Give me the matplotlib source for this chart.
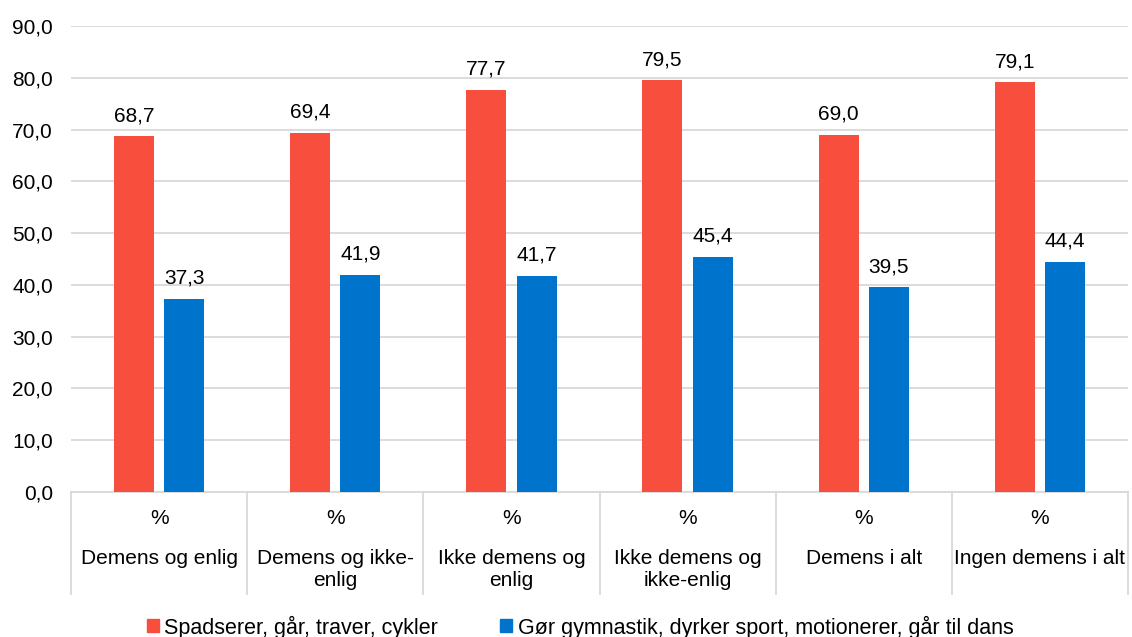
import matplotlib
matplotlib.use("Agg")
import matplotlib.pyplot as plt
import matplotlib.transforms as mtransforms
from matplotlib.patches import Patch
import numpy as np

plt.rcParams['font.family'] = ['Liberation Sans', 'DejaVu Sans']

categories = ["Demens og enlig", "Demens og ikke-\nenlig", "Ikke demens og\nenlig",
              "Ikke demens og\nikke-enlig", "Demens i alt", "Ingen demens i alt"]
unit_label = "%"
series_names = ["Spadserer, går, traver, cykler",
                "Gør gymnastik, dyrker sport, motionerer, går til dans"]
walking = [68.7, 69.4, 77.7, 79.5, 69.0, 79.1]
sport = [37.3, 41.9, 41.7, 45.4, 39.5, 44.4]
y_ticks = [0, 10, 20, 30, 40, 50, 60, 70, 80, 90]

RED = "#F84E3E"
BLUE = "#0074CC"
GRID = "#D9D9D9"
FS = 15

W, H = 1132, 637
fig = plt.figure(figsize=(W / 100, H / 100), dpi=100)
x0, x1, y_top, y_bot = 71, 1128, 26, 492
ax = fig.add_axes([x0 / W, (H - y_bot) / H, (x1 - x0) / W, (y_bot - y_top) / H])

n = len(categories)
x = np.arange(n)
bw = 0.227
off = 0.143
b1 = ax.bar(x - off, walking, bw, color=RED, zorder=3)
b2 = ax.bar(x + off, sport, bw, color=BLUE, zorder=3)

fmt = lambda v: f"{v:.1f}".replace(".", ",")
for bars, vals in ((b1, walking), (b2, sport)):
    for r, v in zip(bars, vals):
        ax.annotate(fmt(v), (r.get_x() + r.get_width() / 2, v), xytext=(0, 8),
                    textcoords="offset points", ha="center", va="bottom", fontsize=FS)

ax.set_xlim(-0.5, n - 0.5)
ax.set_ylim(0, 90)
ax.set_yticks(y_ticks)
ax.set_yticklabels([fmt(t) for t in y_ticks], fontsize=FS)
ax.tick_params(axis="y", length=0, pad=13)
ax.tick_params(axis="x", length=0, labelbottom=False)
ax.yaxis.grid(True, color=GRID, linewidth=1.3, zorder=0)
for s in ["top", "right", "left"]:
    ax.spines[s].set_visible(False)
ax.spines["bottom"].set_color(GRID)
ax.spines["bottom"].set_linewidth(1.3)

# multi-level category axis
trans = mtransforms.blended_transform_factory(ax.transData, ax.transAxes)
ax_h = y_bot - y_top
depth = (594 - y_bot) / ax_h
for b in np.arange(-0.5, n, 1.0):
    ax.plot([b, b], [0, -depth], transform=trans, color=GRID, lw=1.3, clip_on=False)
for i, c in enumerate(categories):
    ax.text(i, -(518 - y_bot) / ax_h, unit_label, transform=trans, ha="center",
            va="center", fontsize=FS)
    ax.text(i, -(549 - y_bot) / ax_h, c, transform=trans, ha="center",
            va="top", fontsize=FS, linespacing=1.2)

handles = [Patch(color=RED), Patch(color=BLUE)]
fig.legend(handles, series_names, loc="center", bbox_to_anchor=(580 / W, 1 - 627 / H),
           ncol=2, frameon=False, fontsize=15.5, handlelength=0.55, handleheight=0.55,
           handletextpad=0.25, columnspacing=2.9, borderpad=0)

fig.savefig("out.png", dpi=100)
